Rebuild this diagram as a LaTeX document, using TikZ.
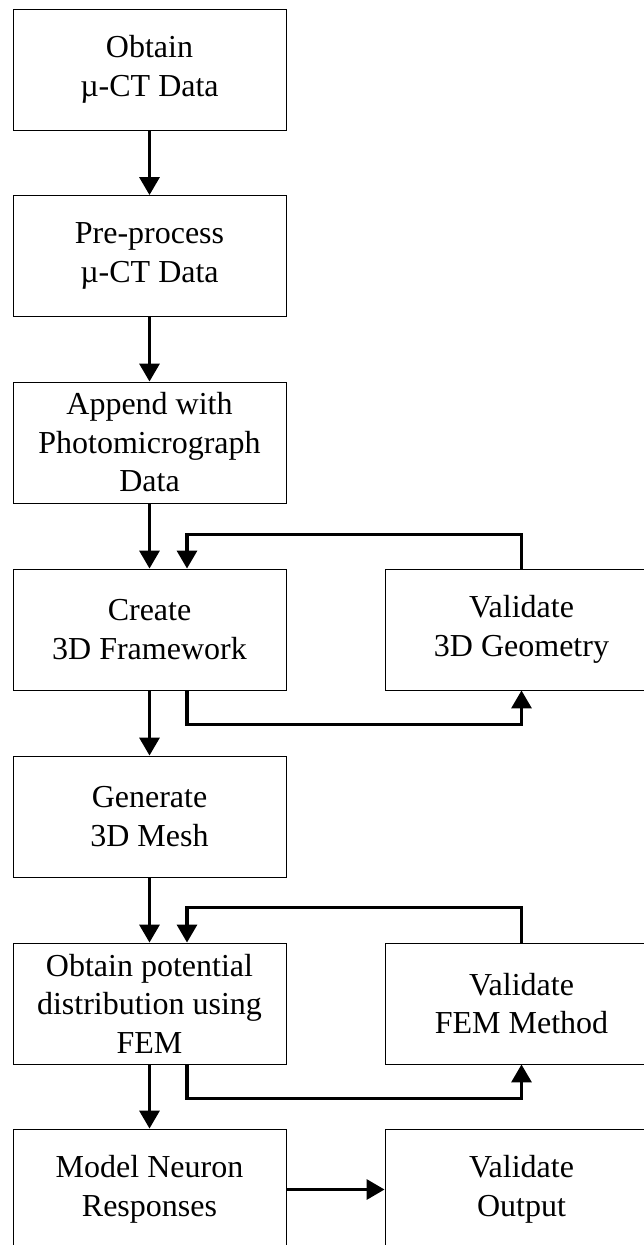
\documentclass[tikz,border=0pt]{standalone}
\usepackage{fontspec}
\setmainfont{Liberation Serif}
\usetikzlibrary{arrows.meta}
\begin{document}
\begin{tikzpicture}[x=1pt,y=1pt,
  box/.style={draw=black,line width=0.9pt,minimum width=273pt,minimum height=121pt,inner sep=0pt,align=center,font=\fontsize{32}{38.5}\selectfont},
  arr/.style={line width=3.3pt,-{Triangle[width=20pt,length=18pt]}}]
\useasboundingbox (0,0) rectangle (644,-1245);
\clip (0,0) rectangle (644,-1245);
\node[box] (b1) at (149.5,-69.5) {Obtain\\µ-CT Data};
\node[box] (b2) at (149.5,-256) {Pre-process\\µ-CT Data};
\node[box] (b3) at (149.5,-442.5) {Append with\\Photomicrograph\\Data};
\node[box] (b4) at (149.5,-629.5) {Create\\3D Framework};
\node[box] (v1) at (521.5,-629.5) {Validate\\3D Geometry};
\node[box] (b5) at (149.5,-816.5) {Generate\\3D Mesh};
\node[box] (b6) at (149.5,-1003.5) {Obtain potential\\distribution using\\FEM};
\node[box] (v2) at (521.5,-1003.5) {Validate\\FEM Method};
\node[box] (b7) at (149.5,-1189.5) {Model Neuron\\Responses};
\node[box] (v3) at (521.5,-1189.5) {Validate\\Output};
\draw[arr] (b1) -- (b2);
\draw[arr] (b2) -- (b3);
\draw[arr] (b3) -- (b4);
\draw[arr] (b4) -- (b5);
\draw[arr] (b5) -- (b6);
\draw[arr] (b6) -- (b7);
\draw[arr] (b7) -- (v3);
\draw[arr] ([xshift=37.5pt]b4.south) -- ++(0,-34) -| (v1.south);
\draw[arr] (v1.north) -- ++(0,34) -| ([xshift=37.5pt]b4.north);
\draw[arr] ([xshift=37.5pt]b6.south) -- ++(0,-34) -| (v2.south);
\draw[arr] (v2.north) -- ++(0,35) -| ([xshift=37.5pt]b6.north);
\end{tikzpicture}
\end{document}
